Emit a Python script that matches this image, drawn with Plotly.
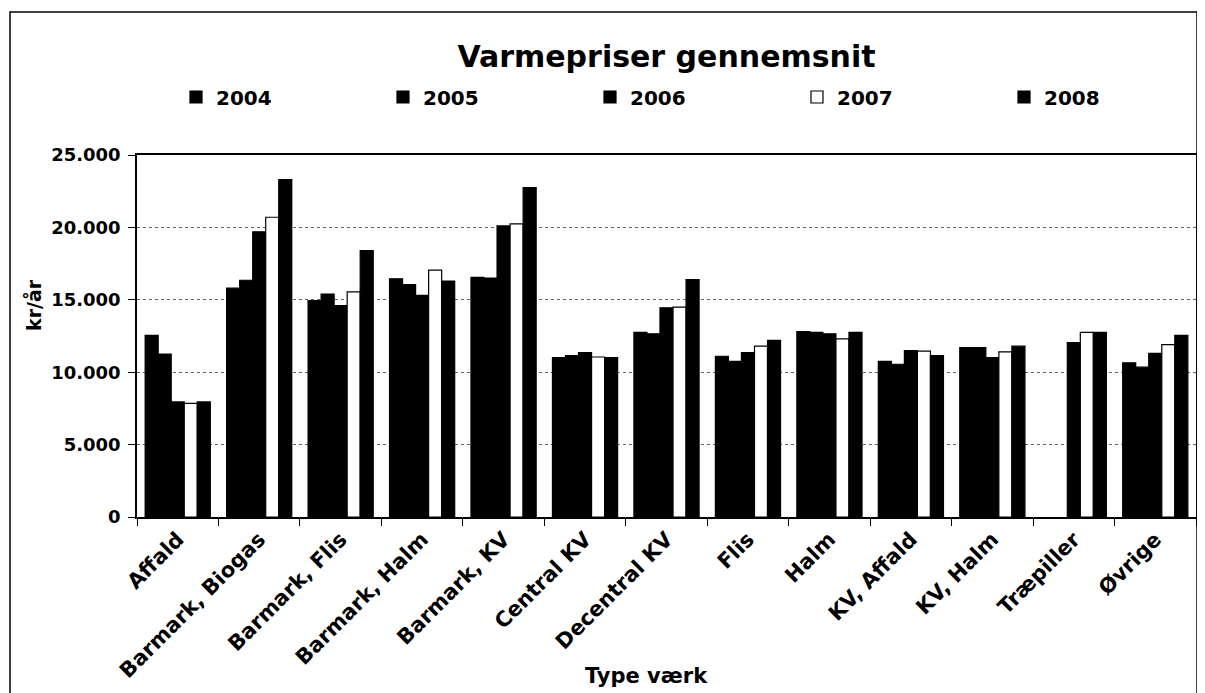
import plotly.graph_objects as go

# varmepriser pr. type vaerk, aflaest fra figuren (kr/aar)
kategorier = ["Affald", "Barmark, Biogas", "Barmark, Flis", "Barmark, Halm", "Barmark, KV",
              "Central KV", "Decentral KV", "Flis", "Halm", "KV, Affald", "KV, Halm",
              "Træpiller", "Øvrige"]

aar = ["2004", "2005", "2006", "2007", "2008"]

v2004 = [12550, 15800, 14950, 16450, 16550, 11000, 12750, 11100, 12800, 10750, 11700, None, 10650]
v2005 = [11250, 16350, 15400, 16050, 16500, 11150, 12650, 10750, 12750, 10550, 11700, None, 10350]
v2006 = [7950, 19700, 14600, 15300, 20100, 11350, 14450, 11350, 12650, 11500, 11000, 12050, 11300]
v2007 = [7850, 20700, 15550, 17050, 20250, 11050, 14500, 11800, 12300, 11450, 11400, 12750, 11900]
v2008 = [7950, 23300, 18400, 16300, 22750, 11000, 16400, 12200, 12750, 11150, 11800, 12750, 12550]

serier = [v2004, v2005, v2006, v2007, v2008]
farver = ["black", "black", "black", "white", "black"]

FONT = "DejaVu Sans, Liberation Sans, Arial"

# siden har 8px margin i body, saa figuren goeres 8px mindre end vinduet
W, H = 1197, 685
PX0, PX1 = 129, 1188   # plotomraade i figurens pixels
PY0, PY1 = 147, 509
PW, PH = PX1 - PX0, PY1 - PY0


def px(xs):
    # skaermens x (fra screenshot) -> paper
    return (xs - 8 - PX0) / PW


def py(ys):
    return (PY1 - (ys - 8)) / PH


fig = go.Figure()

for navn, vals, farve in zip(aar, serier, farver):
    fig.add_trace(go.Bar(
        x=kategorier, y=vals, name=navn,
        marker=dict(color=farve, line=dict(color="black", width=1.2))
    ))

fig.update_layout(
    width=W, height=H,
    paper_bgcolor="white", plot_bgcolor="white",
    font=dict(family=FONT, color="black", weight="bold"),
    separators=",.",
    barmode="group", bargap=0.2, bargroupgap=0,
    margin=dict(l=PX0, r=W - PX1, t=PY0, b=H - PY1, autoexpand=False),
    title=dict(text="Varmepriser gennemsnit", x=0.5, xref="paper", xanchor="center",
               y=1 - (56 - 8) / H, yref="container", yanchor="middle",
               font=dict(size=30, family=FONT, weight="bold")),
    legend=dict(orientation="h", x=px(176), xanchor="left", y=py(97), yanchor="middle",
                entrywidth=162, entrywidthmode="pixels",
                font=dict(size=20, family=FONT, weight="bold"),
                bgcolor="rgba(0,0,0,0)"),
    showlegend=True,
)

fig.update_xaxes(
    type="category", tickangle=-45, tickson="boundaries", automargin=False,
    ticks="outside", ticklen=7, tickcolor="black",
    showline=True, linecolor="black", linewidth=1.5, mirror=True,
    tickfont=dict(size=21, family=FONT, weight="bold"),
    showgrid=False
)

fig.update_yaxes(
    range=[0, 25000], dtick=5000, tickformat=",", automargin=False,
    ticks="outside", ticklen=7, tickcolor="black", ticklabelstandoff=4,
    showline=True, linecolor="black", linewidth=1.5, mirror=True,
    showgrid=True, gridcolor="#666666", griddash="dot", gridwidth=1,
    tickfont=dict(size=18, family=FONT, weight="bold"),
    zeroline=False
)

# aksetitler som annotationer saa de ligger samme sted som i originalen
fig.add_annotation(text="Type værk", x=px(646), xref="paper", xanchor="center",
                   y=py(676), yref="paper", yanchor="middle",
                   showarrow=False, font=dict(size=21, family=FONT, weight="bold"))
fig.add_annotation(text="kr/år", x=px(33), xref="paper", xanchor="center",
                   y=py(305), yref="paper", yanchor="middle",
                   showarrow=False, textangle=-90,
                   font=dict(size=19, family=FONT, weight="bold"))

# rammen rundt om hele diagrammet
fig.add_shape(type="rect", xref="paper", yref="paper",
              x0=px(10), x1=px(1197), y0=py(720), y1=py(12),
              line=dict(color="black", width=1.5), fillcolor="rgba(0,0,0,0)", layer="below")

fig.write_html("out.html")
